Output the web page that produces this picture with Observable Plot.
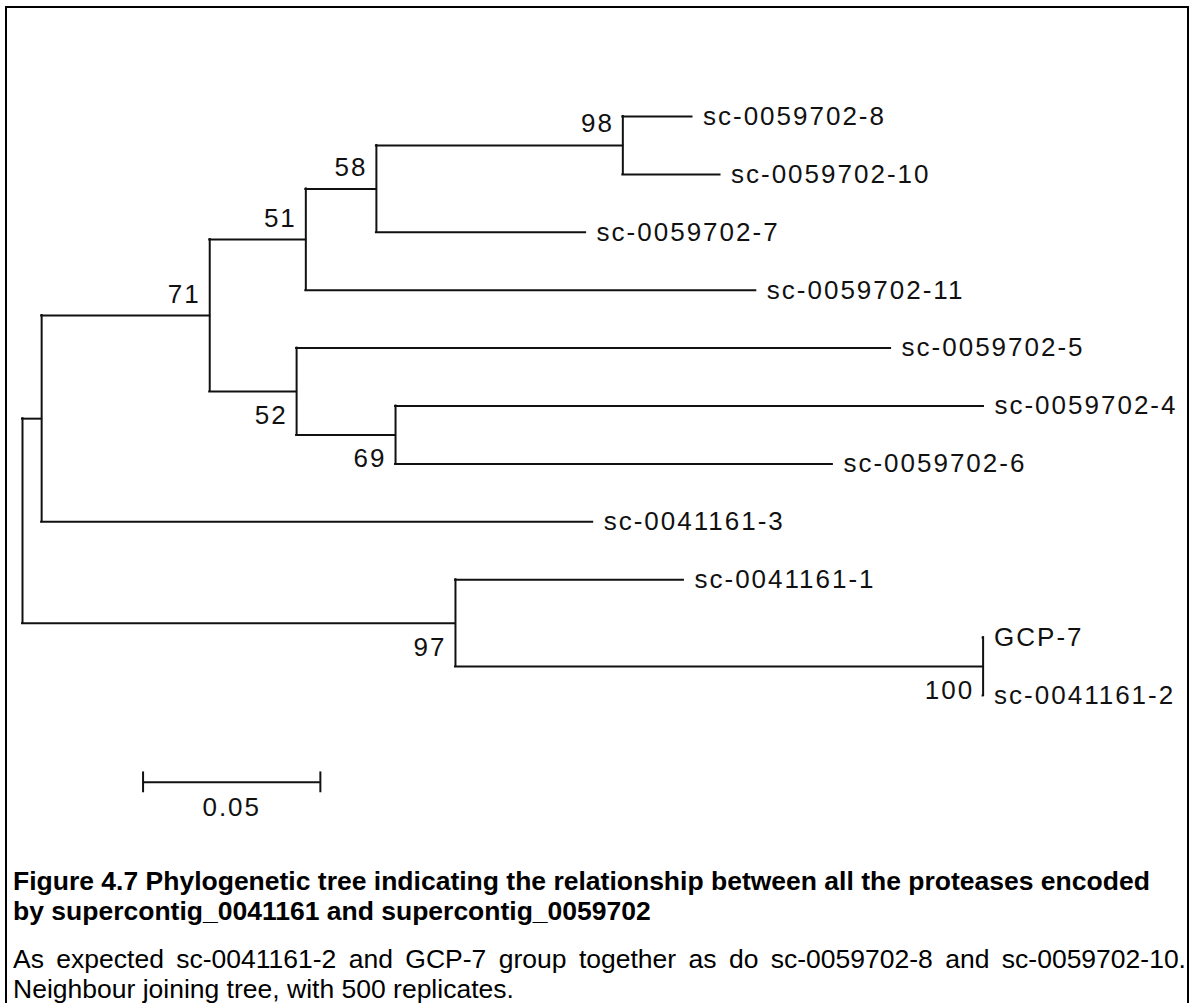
<!DOCTYPE html>
<html>
<head>
<meta charset="utf-8">
<script src="https://cdn.jsdelivr.net/npm/d3@7"></script>
<script src="https://cdn.jsdelivr.net/npm/@observablehq/plot@0.6"></script>
<style>
  html, body { margin: 0; padding: 0; overflow: hidden; background: #fff; width: 1195px; height: 1003px; }
  #frame { position: absolute; left: 5px; top: 6px; width: 1180px; height: 1100px; border: 2px solid #000; }
  #chart { position: absolute; left: 0; top: 0; }
  #chart svg text { letter-spacing: 2px; }
  #caption { position: absolute; left: 13px; top: 866px; width: 1173px; font-family: "Liberation Sans", Arial, sans-serif; font-size: 26.5px; line-height: 30px; color: #000; }
  #caption .title { font-weight: bold; }
  #caption .body { margin-top: 18px; text-align: justify; }
</style>
</head>
<body>
<div id="frame"></div>
<div id="chart"></div>
<div id="caption">
  <div class="title">Figure 4.7 Phylogenetic tree indicating the relationship between all the proteases encoded by supercontig_0041161 and supercontig_0059702</div>
  <div class="body">As expected sc-0041161-2 and GCP-7 group together as do sc-0059702-8 and sc-0059702-10. Neighbour joining tree, with 500 replicates.</div>
</div>
<script>
// Tree topology (children listed top to bottom), branch lengths (substitutions/site), bootstrap values
const nodeIds = ["root","n41","n71","n51","n58","n98","sc-0059702-8","sc-0059702-10","sc-0059702-7","sc-0059702-11","n52","sc-0059702-5","n69","sc-0059702-4","sc-0059702-6","sc-0041161-3","n97","sc-0041161-1","n100","GCP-7","sc-0041161-2"];
const parentIds = [null,"root","n41","n71","n51","n58","n98","n98","n58","n51","n71","n52","n52","n69","n69","n41","root","n97","n97","n100","n100"];
const branchLengths = [0,0.0054,0.0474,0.0271,0.0199,0.0695,0.0195,0.0274,0.0590,0.1269,0.0245,0.1675,0.0279,0.1658,0.1232,0.1554,0.1221,0.0643,0.1488,0,0];
const bootstrapValues = [null,null,71,51,58,98,null,null,null,null,52,null,69,null,null,null,97,null,100,null,null];
const scaleBarLength = 0.05;
const scaleBarLabel = "0.05";
const scaleBarStart = 0.034;

const table = nodeIds.map((id, i) => ({id, parent: parentIds[i], length: branchLengths[i], boot: bootstrapValues[i]}));
const root = d3.stratify().id(d => d.id).parentId(d => d.parent)(table);
root.eachBefore(d => { d.px = (d.parent ? d.parent.px : 0) + d.data.length; });
const leaves = root.leaves();
leaves.forEach((d, i) => { d.py = i; });
root.eachAfter(d => { if (d.children) d.py = (d.children[0].py + d.children[d.children.length - 1].py) / 2; });

const nodes = root.descendants();
const horiz = nodes.filter(d => d.parent).map(d => ({x1: d.parent.px, x2: d.px, y: d.py}));
const vert = nodes.filter(d => d.children).map(d => ({x: d.px, y1: d.children[0].py, y2: d.children[d.children.length - 1].py}));
const leafLabels = leaves.map(d => ({x: d.px, y: d.py, name: d.id}));
const boots = nodes.filter(d => d.data.boot != null).map(d => ({
  x: d.px, y: d.py, v: String(d.data.boot),
  above: d.parent && d.parent.children[0] === d
}));
const barY = leaves.length + 0.5;
const bar = [{x1: scaleBarStart, x2: scaleBarStart + scaleBarLength, y: barY}];
const barTicks = [{x: scaleBarStart}, {x: scaleBarStart + scaleBarLength}];

const ink = "#111";
const font = "Liberation Sans, Arial, sans-serif";
const chart = Plot.plot({
  width: 1195,
  height: 840,
  margin: 0,
  style: {background: "transparent"},
  x: {domain: [0, 0.05], range: [22, 199.3], axis: null},
  y: {domain: [0, 10], range: [116, 695], axis: null},
  marks: [
    Plot.ruleY(horiz, {x1: "x1", x2: "x2", y: "y", stroke: ink, strokeWidth: 2, strokeLinecap: "square"}),
    Plot.ruleX(vert, {x: "x", y1: "y1", y2: "y2", stroke: ink, strokeWidth: 2, strokeLinecap: "square"}),
    Plot.text(leafLabels, {x: "x", y: "y", text: "name", textAnchor: "start", dx: 11, fontSize: 26, fontFamily: font, fill: ink}),
    Plot.text(boots.filter(d => d.above), {x: "x", y: "y", text: "v", textAnchor: "end", lineAnchor: "bottom", dx: -9, dy: -13, fontSize: 26, fontFamily: font, fill: ink}),
    Plot.text(boots.filter(d => !d.above), {x: "x", y: "y", text: "v", textAnchor: "end", lineAnchor: "top", dx: -9, dy: 14, fontSize: 26, fontFamily: font, fill: ink}),
    Plot.ruleY(bar, {x1: "x1", x2: "x2", y: "y", stroke: ink, strokeWidth: 2}),
    Plot.ruleX(barTicks, {x: "x", y1: barY - 0.18, y2: barY + 0.18, stroke: ink, strokeWidth: 2}),
    Plot.text(bar, {x: d => (d.x1 + d.x2) / 2, y: "y", text: () => scaleBarLabel, lineAnchor: "top", dy: 15, fontSize: 26, fontFamily: font, fill: ink})
  ]
});
document.getElementById("chart").appendChild(chart);
</script>
</body>
</html>
